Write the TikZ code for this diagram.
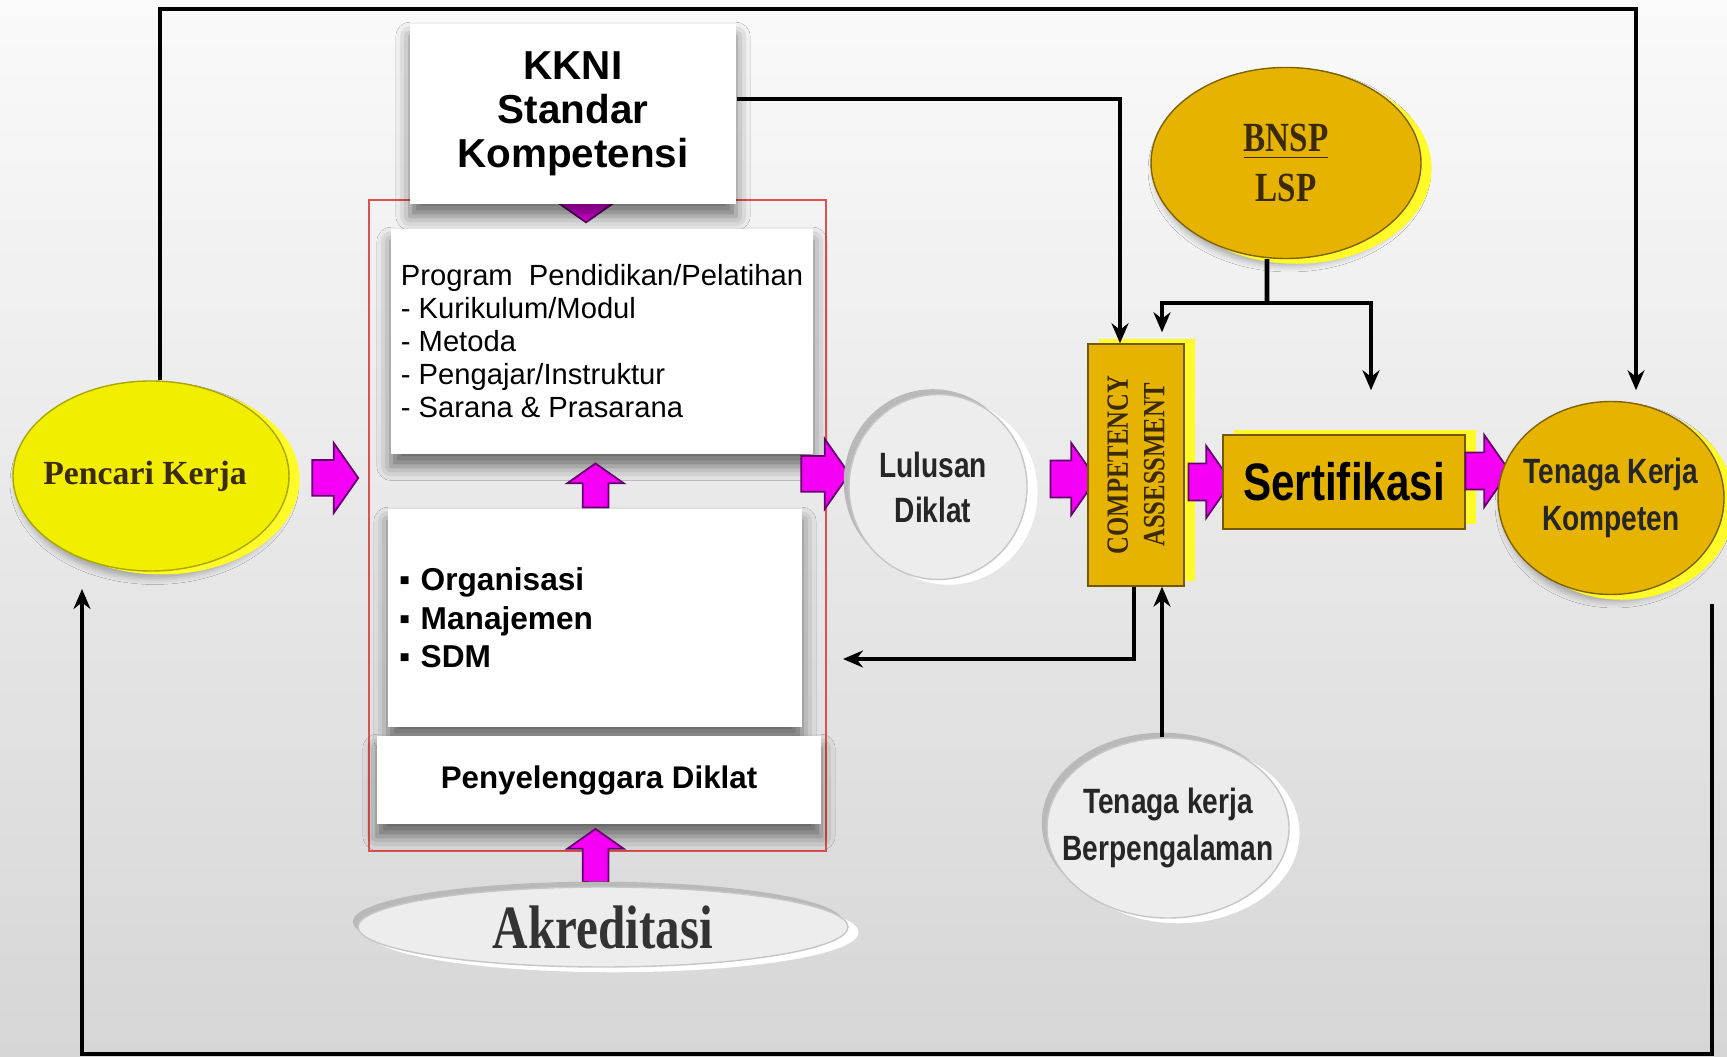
\documentclass[tikz,border=0pt]{standalone}
\usepackage{fontspec}
\setmainfont{Liberation Serif}
\setsansfont{Liberation Sans}
\newfontfamily\narrowsf[FakeStretch=0.8]{Liberation Sans}
\newfontfamily\narrowrm[FakeStretch=0.8]{Liberation Serif}
\usepackage{tikz}
\usepackage{xcolor}
\usetikzlibrary{arrows.meta,calc,positioning,shapes.geometric,shapes.arrows,shadows.blur}
\definecolor{pptbgtop}{RGB}{250,250,250}
\definecolor{pptbgbot}{RGB}{214,214,214}
\definecolor{pptyellow}{RGB}{242,238,0}
\definecolor{pptrim}{RGB}{255,250,40}
\definecolor{pptgold}{RGB}{230,180,0}
\definecolor{pptmag}{RGB}{245,0,245}
\definecolor{pptmagdark}{RGB}{100,0,110}
\definecolor{pptframe}{RGB}{225,80,80}
\definecolor{pptbrown}{RGB}{60,42,5}

\begin{document}
\begin{tikzpicture}[x=1cm,y=1cm,>=Stealth,
  link/.style={line width=1.3pt,-{Stealth[length=2mm,width=1.7mm]}},
  whitebox/.style={rectangle,fill=white,inner sep=0pt,
    blur shadow={shadow xshift=0pt,shadow yshift=-3.5pt,shadow blur radius=4pt,shadow opacity=55}},
  yellowball/.style={ellipse,fill=pptyellow,draw=pptyellow!70!black,line width=0.4pt,inner sep=0pt,
    blur shadow={shadow xshift=1pt,shadow yshift=-2pt,shadow opacity=30},
    general shadow={fill=pptrim,shadow xshift=3pt,shadow yshift=-1pt}},
  goldball/.style={ellipse,fill=pptgold,draw=pptgold!55!black,line width=0.4pt,inner sep=0pt,
    blur shadow={shadow xshift=1pt,shadow yshift=-2pt,shadow opacity=30},
    general shadow={fill=pptrim,shadow xshift=3pt,shadow yshift=-1.5pt}},
  grayball/.style={ellipse,fill=gray!14,draw=gray!45,line width=0.4pt,inner sep=0pt,
    general shadow={fill=gray!55,shadow xshift=-1.5pt,shadow yshift=1.5pt},
    general shadow={fill=white,shadow xshift=3pt,shadow yshift=-1.5pt}},
  goldbox/.style={rectangle,fill=pptgold,draw=pptgold!50!black,line width=0.4pt,inner sep=0pt,
    general shadow={fill=pptrim,shadow xshift=3pt,shadow yshift=1.5pt}},
  balltext/.style={align=center,text=black!85,font=\narrowsf\bfseries\fontsize{10}{13.5}\selectfont},
  magarrow/.style={single arrow,fill=pptmag,draw=pptmagdark,line width=0.5pt,
    single arrow tip angle=110,inner xsep=0.04cm,inner ysep=0.17cm,
    single arrow head extend=0.17cm},
  magup/.style={magarrow,inner xsep=0.12cm,inner ysep=0.04cm,single arrow head extend=0.155cm}]
  % 背景
  \useasboundingbox (0,0) rectangle (17.27,10.57);
  \shade[top color=pptbgtop,bottom color=pptbgbot] (0,0) rectangle (17.27,10.57);
  % 红色外框
  \draw[pptframe,line width=0.7pt] (3.69,2.06) rectangle (8.26,8.57);
  % 左侧
  \node[yellowball,minimum width=2.76cm,minimum height=1.90cm,
    label={[xshift=-0.06cm,text=pptbrown,font=\rmfamily\bfseries\fontsize{9.6}{11}\selectfont]center:Pencari Kerja}]
    (pencari) at (1.51,5.81) {};
  \node[magarrow,minimum width=0.68cm,minimum height=0.46cm] (a1) at (3.29,5.79) {};
  % 培训机构
  \node[magup,shape border rotate=270,minimum width=0.61cm,minimum height=0.45cm] (a2) at (5.86,8.62) {};
  \node[whitebox,minimum width=3.26cm,minimum height=1.80cm,align=center,
    font=\sffamily\bfseries\fontsize{11.5}{12.5}\selectfont] (kkni) at (5.73,9.43) {KKNI\\Standar\\Kompetensi};
  \node[whitebox,minimum width=4.22cm,minimum height=2.25cm,align=left,
    font=\sffamily\fontsize{8.3}{9.4}\selectfont] (prog) at (6.02,7.155)
    {Program~~Pendidikan/Pelatihan\\- Kurikulum/Modul\\- Metoda\\- Pengajar/Instruktur\\- Sarana \& Prasarana};
  \node[magup,shape border rotate=90,minimum width=0.55cm,minimum height=0.44cm] (a3) at (5.955,5.67) {};
  \node[whitebox,minimum width=4.14cm,minimum height=2.18cm,text width=3.92cm,align=left,
    font=\sffamily\bfseries\fontsize{9}{11}\selectfont] (org) at (5.95,4.39)
    {▪ Organisasi\\▪ Manajemen\\▪ SDM};
  \node[whitebox,minimum width=4.44cm,minimum height=0.88cm,
    font=\sffamily\bfseries\fontsize{8.9}{10}\selectfont] (peny) at (5.99,2.77) {Penyelenggara Diklat};
  \node[magup,shape border rotate=90,minimum width=0.55cm,minimum height=0.53cm] (a4) at (5.955,1.97) {};
  \node[grayball,minimum width=4.90cm,minimum height=0.80cm,
    label={[text=black!80,font=\narrowrm\bfseries\fontsize{17.5}{18}\selectfont]center:Akreditasi}]
    (akr) at (6.03,1.30) {};
  % 中间
  \node[magarrow,minimum width=0.69cm,minimum height=0.48cm] (a5) at (8.19,5.83) {};
  \node[grayball,minimum width=1.78cm,minimum height=1.85cm,
    label={[balltext,xshift=-0.05cm,font=\narrowsf\bfseries\fontsize{10}{12.8}\selectfont]center:Lulusan\\Diklat}]
    (lulus) at (9.38,5.70) {};
  \node[magarrow,minimum width=0.72cm,minimum height=0.46cm] (a6) at (10.67,5.78) {};
  \node[goldbox,minimum width=0.96cm,minimum height=2.42cm,
    label={[rotate=90,align=center,text=pptbrown,font=\narrowrm\bfseries\fontsize{8.8}{10.4}\selectfont]center:COMPETENCY\\ASSESSMENT}]
    (comp) at (11.36,5.92) {};
  \node[magarrow,minimum width=0.72cm,minimum height=0.43cm] (a7) at (12.035,5.75) {};
  \node[goldbox,minimum width=2.42cm,minimum height=0.94cm,
    font=\narrowsf\bfseries\fontsize{15}{16}\selectfont] (sert) at (13.44,5.75) {Sertifikasi};
  \node[magarrow,minimum width=0.72cm,minimum height=0.44cm] (a8) at (14.81,5.86) {};
  \node[goldball,minimum width=2.26cm,minimum height=1.93cm,
    label={[balltext]center:Tenaga Kerja\\Kompeten}] (tkk) at (16.11,5.59) {};
  % 右上与下方
  \node[goldball,minimum width=2.70cm,minimum height=1.91cm,
    label={[balltext,text=pptbrown,font=\narrowrm\bfseries\fontsize{11.8}{14}\selectfont]center:\underline{BNSP}\\LSP}]
    (bnsp) at (12.86,8.94) {};
  \node[grayball,minimum width=2.42cm,minimum height=1.80cm,
    label={[balltext]center:Tenaga kerja\\Berpengalaman}] (tkb) at (11.68,2.29) {};
  % 连线
  \coordinate (topR) at (16.36,10.48);
  \draw[link,shorten >=3pt] ([xshift=0.09cm]pencari.north) |- (topR) -- (topR |- tkk.north);
  \draw[link] ([yshift=0.15cm]kkni.east) -| ([xshift=-0.16cm]comp.north);
  \coordinate (split) at (12.67,7.54);
  \draw[line width=1.3pt] ([xshift=-0.19cm]bnsp.south) -- (split);
  \draw[link] (split) -| ([xshift=0.26cm,yshift=0.11cm]comp.north);
  \draw[link] (split) -| ([xshift=0.27cm,yshift=0.44cm]sert.north);
  \coordinate (back) at (8.43,3.98);
  \draw[link] ([xshift=-0.02cm]comp.south) |- (back);
  \draw[link] ([xshift=-0.06cm]tkb.north) -- ([xshift=-0.06cm]tkb.north |- comp.south);
  \coordinate (retR) at (17.12,4.53);
  \coordinate (botR) at (17.12,0.03);
  \coordinate (retL) at (0.82,4.68);
  \draw[link] (retR) -- (botR) -| (retL);
\end{tikzpicture}
\end{document}
